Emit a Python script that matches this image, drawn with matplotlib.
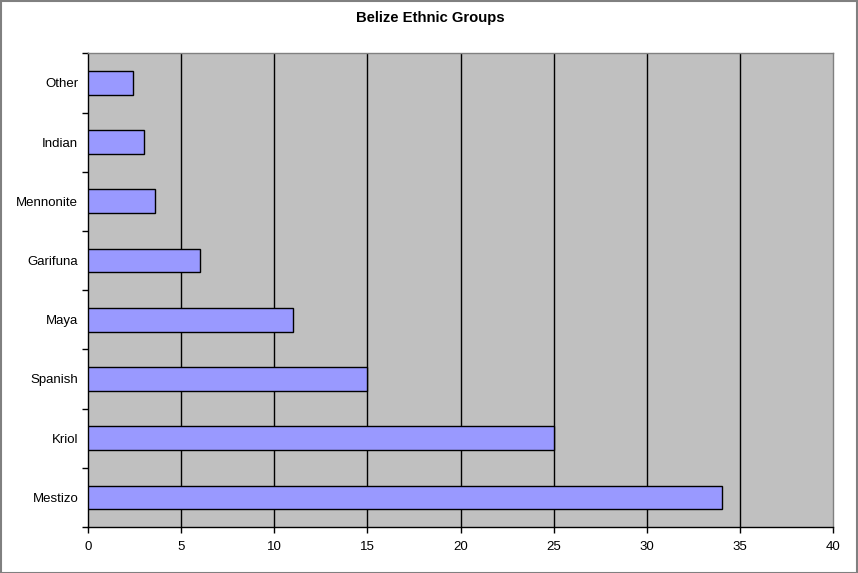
import numpy as np
import matplotlib
matplotlib.use("Agg")
import matplotlib.pyplot as plt
from matplotlib.patches import Rectangle

groups = ["Mestizo", "Kriol", "Spanish", "Maya", "Garifuna", "Mennonite", "Indian", "Other"]
percent = [34, 25, 15, 11, 6, 3.6, 3, 2.4]
xticks = [0, 5, 10, 15, 20, 25, 30, 35, 40]

plt.rcParams["font.family"] = ["Liberation Sans", "DejaVu Sans"]

fig = plt.figure(figsize=(8.58, 5.73), dpi=100)
ax = fig.add_axes([88 / 858, 46 / 573, 745.3 / 858, 473.7 / 573])

# Figure border, Excel-style
fig.patches.append(Rectangle((0.0012, 0.0), 0.9976, 0.9975, transform=fig.transFigure,
                             fill=False, edgecolor="#808080", linewidth=1.5))

ax.set_facecolor("#C0C0C0")
y = np.arange(len(groups))
ax.barh(y, percent, height=0.4, color="#9999FF", edgecolor="black", linewidth=1, zorder=3)

ax.set_xlim(0, 40)
ax.set_ylim(-0.5, len(groups) - 0.5)

# vertical gridlines
for v in xticks[1:-1]:
    ax.axvline(v, color="black", linewidth=1, zorder=1)

ax.set_xticks(xticks)
ax.set_xticklabels([str(t) for t in xticks])
ax.set_yticks(y)
ax.set_yticklabels(groups)
ax.set_yticks(np.arange(-0.5, len(groups)), minor=True)
ax.tick_params(axis="y", which="major", length=0, pad=7, labelsize=9.5)
ax.tick_params(axis="y", which="minor", length=4, width=1, direction="out")
ax.tick_params(axis="x", length=4, width=1, direction="out", pad=6, labelsize=9.5)

for side in ["left", "bottom"]:
    ax.spines[side].set_color("black")
    ax.spines[side].set_linewidth(1)
for side in ["top", "right"]:
    ax.spines[side].set_color("#808080")
    ax.spines[side].set_linewidth(1)

fig.text(430 / 858, 1 - 18 / 573, "Belize Ethnic Groups", ha="center", va="center",
         fontsize=10.7, fontweight="bold")

plt.savefig("out.png", dpi=100)
plt.close()
